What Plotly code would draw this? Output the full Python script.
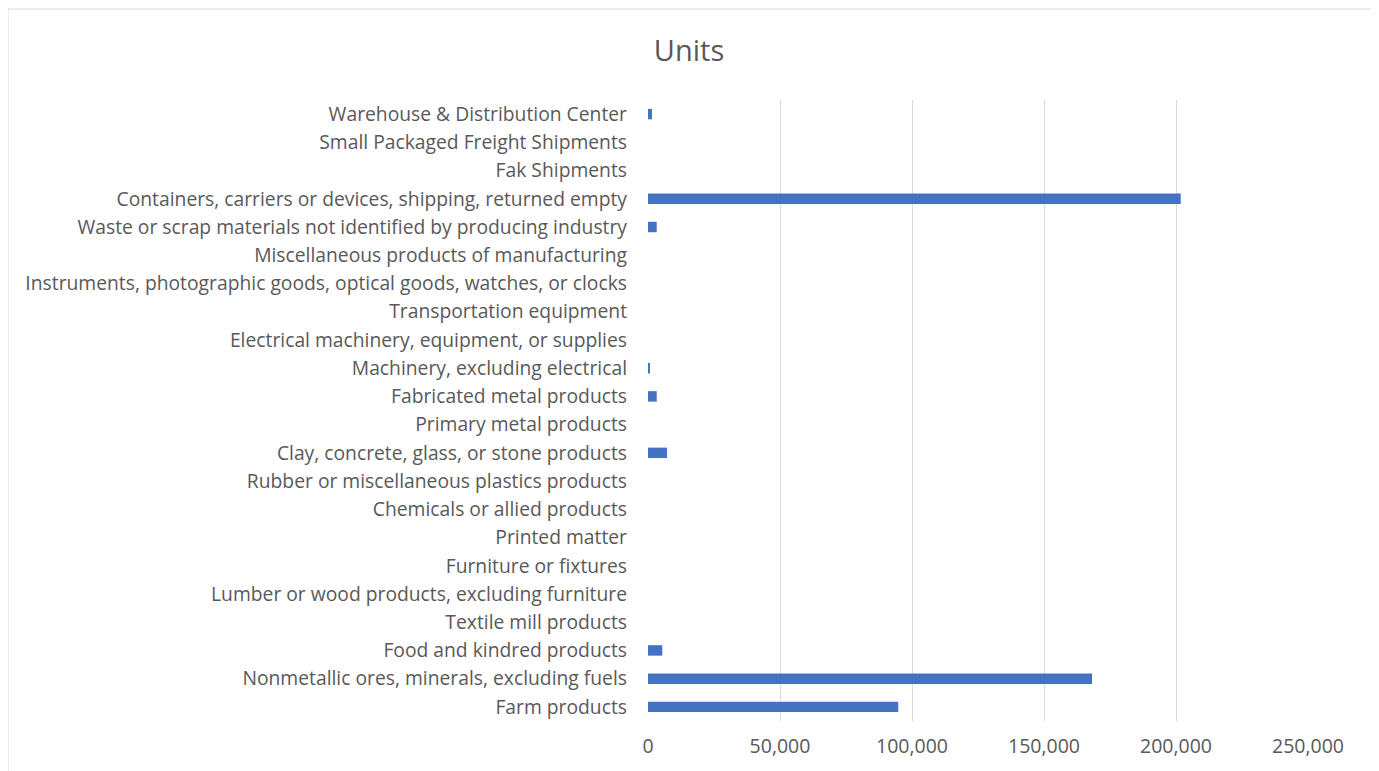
import plotly.graph_objects as go

# =====================================================
# DATA
# =====================================================

categories = [
    "Farm products",
    "Nonmetallic ores, minerals, excluding fuels",
    "Food and kindred products",
    "Textile mill products",
    "Lumber or wood products, excluding furniture",
    "Furniture or fixtures",
    "Printed matter",
    "Chemicals or allied products",
    "Rubber or miscellaneous plastics products",
    "Clay, concrete, glass, or stone products",
    "Primary metal products",
    "Fabricated metal products",
    "Machinery, excluding electrical",
    "Electrical machinery, equipment, or supplies",
    "Transportation equipment",
    "Instruments, photographic goods, optical goods, watches, or clocks",
    "Miscellaneous products of manufacturing",
    "Waste or scrap materials not identified by producing industry",
    "Containers, carriers or devices, shipping, returned empty",
    "Fak Shipments",
    "Small Packaged Freight Shipments",
    "Warehouse & Distribution Center",
]

units = [
    94800, 168200, 5400, 0, 0, 0, 0, 0, 0, 7200, 0,
    3300, 700, 0, 0, 0, 0, 3300, 201800, 0, 0, 1500,
]

tick_values = [0, 50000, 100000, 150000, 200000, 250000]

# =====================================================
# CHART
# =====================================================

fig = go.Figure()

fig.add_trace(
    go.Bar(
        x=units,
        y=categories,
        orientation="h",
        marker=dict(color="#4472C4", line=dict(width=0)),
        name="Units",
    )
)

grey = "#595959"

# plot area in figure pixels
left, right, top, bottom = 640, 1300, 92, 713

fig.update_layout(
    width=1379,
    height=771,
    paper_bgcolor="white",
    plot_bgcolor="white",
    showlegend=False,
    bargap=0.63,
    font=dict(family="Open Sans", color=grey, size=19),
    title=dict(
        text="Units",
        x=681 / 1379,
        xanchor="center",
        xref="container",
        y=0.945,
        yanchor="middle",
        font=dict(size=29, color=grey),
    ),
    margin=dict(l=left, r=1379 - right, t=top, b=771 - bottom),
)

fig.update_xaxes(
    range=[0, 250000],
    tickvals=tick_values,
    tickformat=",d",
    showgrid=True,
    gridcolor="#d9d9d9",
    gridwidth=1,
    zeroline=False,
    showline=False,
    ticks="",
    ticklabelstandoff=11,
    tickfont=dict(size=19.5, color=grey),
)

fig.update_yaxes(
    categoryorder="array",
    categoryarray=categories,
    showgrid=False,
    zeroline=False,
    showline=False,
    ticks="",
    ticklabelstandoff=20,
    tickfont=dict(size=19.3, color=grey),
)

# chart area border
w, h = right - left, bottom - top
fig.add_shape(
    type="rect",
    xref="paper",
    yref="paper",
    x0=(0 - left) / w,
    x1=(1364 - left) / w,
    y0=(bottom - 800) / h,
    y1=(bottom - 1) / h,
    line=dict(color="#d9d9d9", width=1),
    fillcolor="rgba(0,0,0,0)",
    layer="below",
)

fig.write_html("out.html")
